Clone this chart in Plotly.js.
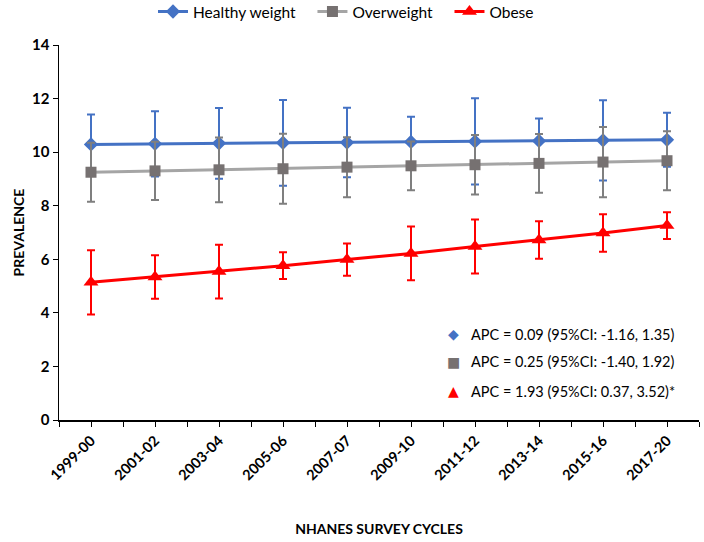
<!DOCTYPE html>
<html>
<head>
<meta charset="utf-8">
<script src="https://cdn.plot.ly/plotly-3.0.1.min.js"></script>
<style>html,body{margin:0;padding:0;background:#fff;}#chart{width:704px;height:542px;}</style>
</head>
<body>
<div id="chart"></div>
<script>
const cycles = ["1999-00","2001-02","2003-04","2005-06","2007-07","2009-10","2011-12","2013-14","2015-16","2017-20"];
const healthy = [10.29,10.31,10.33,10.35,10.36,10.38,10.40,10.42,10.44,10.46];
const healthyErr = [1.12,1.22,1.32,1.6,1.3,0.94,1.61,0.84,1.5,1.01];
const overweight = [9.25,9.30,9.34,9.38,9.44,9.49,9.53,9.58,9.63,9.68];
const overweightErr = [1.1,1.09,1.21,1.31,1.12,0.91,1.11,1.1,1.31,1.1];
const obese = [5.14,5.34,5.54,5.76,5.99,6.22,6.48,6.72,6.98,7.26];
const obeseErr = [1.2,0.81,1.0,0.5,0.6,1.0,1.01,0.7,0.7,0.5];
const apcLabels = ["APC = 0.09 (95%CI: -1.16, 1.35)","APC = 0.25 (95%CI: -1.40, 1.92)","APC = 1.93 (95%CI: 0.37, 3.52)*"];
const seriesNames = ["Healthy weight","Overweight","Obese"];

const idx = cycles.map((c,i)=>i);
const FONT = "Lato, 'Open Sans', sans-serif";
const PAD = '\u00a0\u00a0\u00a0';

function mk(name, y, err, lineColor, markerColor, symbol, size, errColor){
  return {
    type:'scatter', mode:'lines+markers', name:name + PAD, x:idx, y:y,
    line:{color:lineColor, width:3},
    marker:{color:markerColor, symbol:symbol, size:size, line:{width:0}},
    error_y:{type:'data', array:err, visible:true, color:errColor, thickness:2, width:4}
  };
}
const traces = [
  mk(seriesNames[0], healthy, healthyErr, '#4472C4', '#4472C4', 'diamond', 11, '#4472C4'),
  mk(seriesNames[1], overweight, overweightErr, '#A5A5A5', '#767171', 'square', 11, '#7F7F7F'),
  mk(seriesNames[2], obese, obeseErr, '#FF0000', '#FF0000', 'triangle-up', 13, '#FF0000')
];

const symColors = ['#4472C4','#767171','#FF0000'];
const symGlyphs = ['\u25C6','\u25A0','\u25B2'];
const ys = [0.229,0.155,0.077];
const annotations = [];
apcLabels.forEach((t,i)=>{
  annotations.push({xref:'paper', yref:'paper', x:0.616, y:ys[i], text:symGlyphs[i], showarrow:false,
    font:{family:'DejaVu Sans', size:14, color:symColors[i]}, xanchor:'center', yanchor:'middle'});
  annotations.push({xref:'paper', yref:'paper', x:0.641, y:ys[i], text:t, showarrow:false,
    font:{family:FONT, size:14.5, color:'#000'}, xanchor:'left', yanchor:'middle'});
});

const layout = {
  width:704, height:542,
  margin:{l:59, r:5, t:45, b:122},
  paper_bgcolor:'#fff', plot_bgcolor:'#fff',
  font:{family:FONT, color:'#000'},
  showlegend:true,
  legend:{orientation:'h', xref:'container', yref:'container', x:0.5, xanchor:'center', y:0.978, yanchor:'middle',
    font:{family:FONT, size:15.5, color:'#000'}, itemwidth:30, traceorder:'normal'},
  xaxis:{
    range:[-0.5,9.5], tickmode:'array', tickvals:idx, ticktext:cycles, tickangle:-45,
    showgrid:false, zeroline:false, showline:true, linecolor:'#000', linewidth:1.5,
    ticks:'outside', ticklen:5, tickcolor:'#000', tickwidth:1,
    minor:{tick0:-0.5, dtick:1, ticks:'outside', ticklen:5, tickcolor:'#000', tickwidth:1, showgrid:false},
    tickfont:{family:FONT, size:14.5, color:'#000', weight:'bold'},
    title:{text:'<b>NHANES SURVEY CYCLES</b>', font:{family:FONT, size:14, color:'#000'}, standoff:42}
  },
  yaxis:{
    range:[0,14], dtick:2, tick0:0, showgrid:false, zeroline:false, showline:true, linecolor:'#000', linewidth:1.5,
    ticks:'outside', ticklen:5, tickcolor:'#000', tickwidth:1,
    tickfont:{family:FONT, size:15, color:'#000', weight:'bold'},
    title:{text:'<b>PREVALENCE</b>', font:{family:FONT, size:14, color:'#000'}, standoff:4}
  },
  annotations:annotations
};
Plotly.newPlot('chart', traces, layout, {displayModeBar:false, staticPlot:true});
</script>
</body>
</html>
